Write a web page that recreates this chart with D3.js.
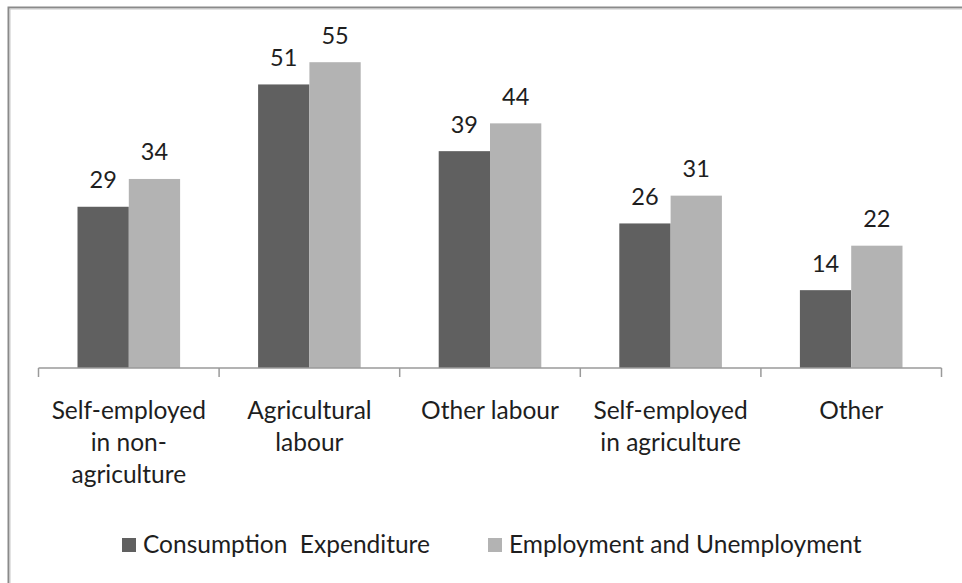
<!DOCTYPE html>
<html>
<head>
<meta charset="utf-8">
<script src="https://cdn.jsdelivr.net/npm/d3@7"></script>
<style>
  body { margin: 0; background: #fff; }
  svg { display: block; font-family: Lato, "Noto Sans", sans-serif; }
</style>
</head>
<body>
<script>
var width = 962,
    height = 583;

// categories (each label split into its lines)
const categories = ["Self-employed in non-agriculture", "Agricultural labour", "Other labour", "Self-employed in agriculture", "Other"];
const categoryLines = [
    ["Self-employed", "in non-", "agriculture"],
    ["Agricultural", "labour"],
    ["Other labour"],
    ["Self-employed", "in agriculture"],
    ["Other"]
];
const seriesNames = ["Consumption  Expenditure", "Employment and Unemployment"];
const consumption = [29, 51, 39, 26, 14];
const employment = [34, 55, 44, 31, 22];
const colors = ["#606060", "#b3b3b3"];

var svg = d3.select("body").append("svg")
    .attr("width", width)
    .attr("height", height);

// cadre (only top and left edges are visible in the crop)
svg.append("rect")
    .attr("x", 8.5).attr("y", 7.5)
    .attr("width", 1000).attr("height", 1000)
    .attr("fill", "none")
    .attr("stroke", "#8a8a8a")
    .attr("stroke-width", 2);
svg.append("rect")
    .attr("x", 10).attr("y", 9)
    .attr("width", 1000).attr("height", 1000)
    .attr("fill", "none")
    .attr("stroke", "#c8c8c8")
    .attr("stroke-width", 1);

var x = d3.scaleBand()
    .domain(categories)
    .range([38.5, 941.5])
    .paddingInner(0)
    .paddingOuter(0);

var xInner = d3.scaleBand()
    .domain([0, 1])
    .range([39, x.bandwidth() - 39]);

var y = d3.scaleLinear()
    .domain([0, 60])
    .range([368, 34.4]);

var data = categories.map((c, i) => ({cat: c, values: [consumption[i], employment[i]]}));

var groups = svg.append("g").selectAll("g")
    .data(data)
    .join("g")
    .attr("transform", d => `translate(${x(d.cat)},0)`);

groups.selectAll("rect")
    .data(d => d.values.map((v, j) => ({v: v, j: j})))
    .join("rect")
    .attr("x", d => xInner(d.j))
    .attr("y", d => y(d.v))
    .attr("width", xInner.bandwidth())
    .attr("height", d => y(0) - y(d.v))
    .attr("fill", d => colors[d.j]);

groups.selectAll("text.val")
    .data(d => d.values.map((v, j) => ({v: v, j: j})))
    .join("text")
    .attr("class", "val")
    .attr("x", d => xInner(d.j) + xInner.bandwidth() / 2)
    .attr("y", d => y(d.v) - 18.5)
    .attr("text-anchor", "middle")
    .attr("font-size", 23.5)
    .attr("fill", "#1e1e1e")
    .text(d => d.v);

// axe des x
var axis = svg.append("g")
    .attr("transform", `translate(0,${y(0)})`);
axis.append("line")
    .attr("x1", x.range()[0]).attr("x2", x.range()[1])
    .attr("stroke", "#9a9a9a").attr("stroke-width", 1.5);
axis.selectAll("line.tick")
    .data(categories.map(c => x(c)).concat([x.range()[1]]))
    .join("line")
    .attr("class", "tick")
    .attr("x1", d => d).attr("x2", d => d)
    .attr("y1", 0).attr("y2", 9)
    .attr("stroke", "#9a9a9a").attr("stroke-width", 1.5);

axis.selectAll("text")
    .data(categories)
    .join("text")
    .attr("x", d => x(d) + x.bandwidth() / 2)
    .attr("y", 51)
    .attr("text-anchor", "middle")
    .attr("font-size", 24.5)
    .attr("fill", "#1e1e1e")
    .each(function (d, i) {
        d3.select(this).selectAll("tspan")
            .data(categoryLines[i])
            .join("tspan")
            .attr("x", x(d) + x.bandwidth() / 2)
            .attr("dy", (l, k) => k === 0 ? 0 : 32)
            .text(l => l);
    });

// légende
var legendX = [122, 488];
var legend = svg.append("g").selectAll("g")
    .data(seriesNames)
    .join("g")
    .attr("transform", (d, i) => `translate(${legendX[i]},538)`);
legend.append("rect")
    .attr("width", 14).attr("height", 14)
    .attr("fill", (d, i) => colors[i]);
legend.append("text")
    .attr("x", 21).attr("y", 15)
    .attr("font-size", 24.5)
    .attr("fill", "#1e1e1e")
    .attr("xml:space", "preserve")
    .style("white-space", "pre")
    .text(d => d);
</script>
</body>
</html>
